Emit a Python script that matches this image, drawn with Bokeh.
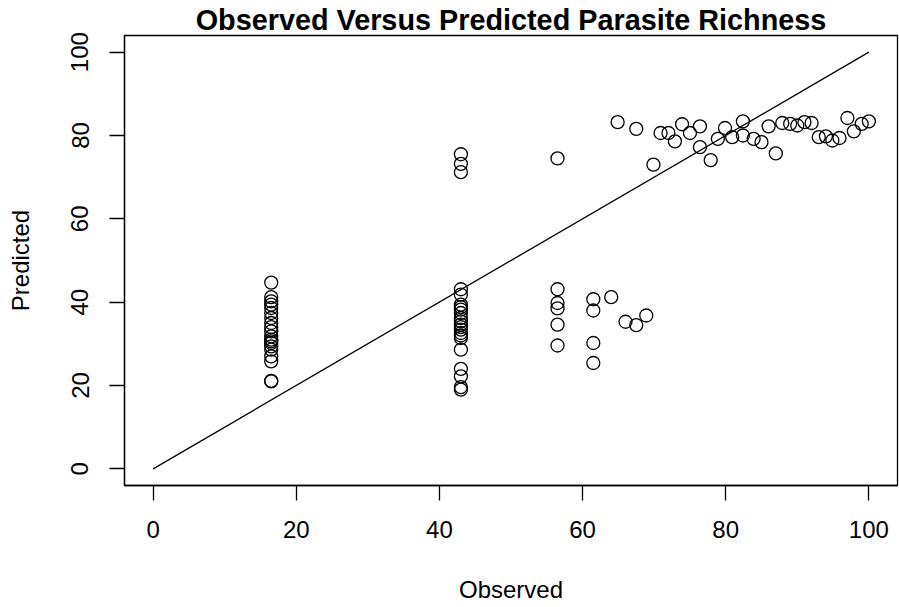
from bokeh.plotting import figure
from bokeh.models import Range1d, FixedTicker, ColumnDataSource
from bokeh.embed import file_html
from bokeh.resources import INLINE

# Observed vs predicted values
obs_a = [16.5] * 20
pred_a = [44.7, 41.2, 40.2, 39.4, 38.6, 37.4, 36.2, 35.0, 34.0, 33.0,
          31.8, 31.0, 30.6, 30.2, 29.4, 28.6, 27.0, 25.8, 21.1, 21.0]

obs_b = [43.0] * 22
pred_b = [75.5, 73.2, 71.2, 43.1, 41.8, 39.4, 38.8, 38.2, 37.4, 36.2,
          35.4, 34.6, 34.0, 33.4, 32.6, 32.0, 31.4, 28.6, 24.0, 22.2, 19.6, 19.0]

obs_c = [56.5, 56.5, 56.5, 56.5, 56.5, 56.5,
         61.5, 61.5, 61.5, 61.5, 64.0, 66.0, 67.5, 68.9]
pred_c = [74.5, 43.1, 39.8, 38.5, 34.6, 29.6,
          40.7, 38.0, 30.2, 25.4, 41.2, 35.3, 34.5, 36.8]

obs_d = [64.9, 67.5, 69.9, 70.9, 72.0, 72.9, 73.9, 75.0, 76.4, 76.4,
         77.9, 78.9, 79.9, 80.9, 82.4, 82.4, 83.9, 85.0, 86.0, 87.0,
         87.9, 89.0, 90.0, 91.0, 92.0, 93.0, 94.0, 94.9, 95.9, 97.0,
         97.9, 99.0, 100.0]
pred_d = [83.2, 81.6, 73.0, 80.6, 80.6, 78.6, 82.7, 80.6, 82.2, 77.2,
          74.1, 79.2, 81.8, 79.6, 83.4, 80.0, 79.2, 78.4, 82.2, 75.7,
          83.0, 82.8, 82.4, 83.2, 83.0, 79.6, 79.8, 78.8, 79.4, 84.2,
          81.0, 82.8, 83.4]

observed = obs_a + obs_b + obs_c + obs_d
predicted = pred_a + pred_b + pred_c + pred_d

line_x = [0, 100]
line_y = [0, 100]
ticks = [0, 20, 40, 60, 80, 100]
title_text = "Observed Versus Predicted Parasite Richness"

FONT = "Liberation Sans"

p = figure(width=899, height=607, output_backend="svg", toolbar_location=None,
           x_range=Range1d(-4, 104), y_range=Range1d(-4, 104),
           min_border_left=124, min_border_right=2, min_border_top=35,
           min_border_bottom=122, title=title_text)
p.title.text_font = FONT
p.title.text_font_size = "28.8px"
p.title.text_font_style = "bold"
p.title.align = "center"
p.title.standoff = 0
p.title.offset = 0
p.title.text_color = "black"

p.xgrid.visible = False
p.ygrid.visible = False
p.outline_line_color = "black"
p.outline_line_width = 1.3
p.background_fill_color = "white"
p.border_fill_color = "white"

for ax in (p.xaxis[0], p.yaxis[0]):
    ax.ticker = FixedTicker(ticks=ticks)
    ax.minor_tick_line_color = None
    ax.major_tick_in = 0
    ax.major_tick_out = 15
    ax.major_tick_line_width = 1.3
    ax.axis_line_width = 1.3
    ax.major_label_text_font = FONT
    ax.major_label_text_font_size = "24px"
    ax.major_label_text_color = "black"
    ax.axis_label_text_font = FONT
    ax.axis_label_text_font_size = "24px"
    ax.axis_label_text_font_style = "normal"
    ax.axis_label_text_color = "black"

p.xaxis.axis_label = "Observed"
p.yaxis.axis_label = "Predicted"
p.xaxis.major_label_standoff = 20
p.xaxis.axis_label_standoff = 35
p.yaxis.major_label_standoff = 21
p.yaxis.axis_label_standoff = 35
p.yaxis.major_label_orientation = "vertical"

p.line(line_x, line_y, line_color="black", line_width=1.3)

src = ColumnDataSource(dict(x=observed, y=predicted))
p.scatter("x", "y", source=src, marker="circle", size=13,
          fill_color=None, line_color="black", line_width=1.3)

open("out.html", "w").write(file_html(p, INLINE))
